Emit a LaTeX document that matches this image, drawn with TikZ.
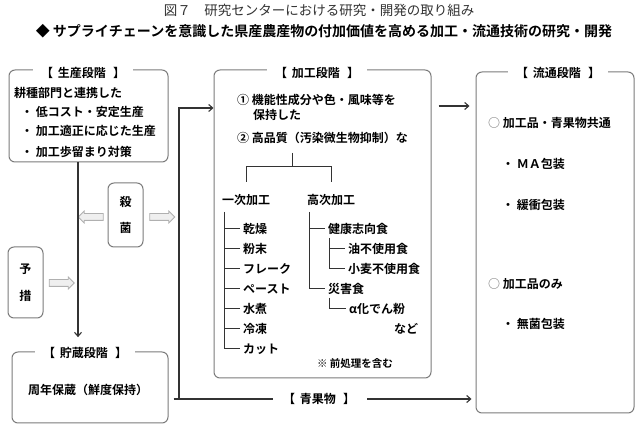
\documentclass[tikz,border=0pt]{standalone}
\usepackage{fontspec}
\setmainfont{Noto Sans CJK JP}[BoldFont={Noto Sans CJK JP Bold}]
\usetikzlibrary{arrows.meta,positioning,shapes.arrows}
\definecolor{Ink}{HTML}{333333}
\definecolor{Frame}{HTML}{7C7C7C}
\definecolor{Soft}{HTML}{B0B0B0}
\definecolor{Mist}{HTML}{EFEFEF}
\newcommand{\brk}[1]{【\hspace{5pt}#1\hspace{7pt}】}
\tikzset{
  >={Straight Barb[length=4pt,width=7pt]},
  stage/.style={draw=Frame,line width=1pt,rounded corners=6pt},
  stagelab/.style={fill=white,inner xsep=8pt,inner ysep=1pt,font=\bfseries\fontsize{12}{14}\selectfont},
  txt/.style={anchor=west,inner sep=0pt,font=\bfseries\fontsize{12}{14}\selectfont},
  item/.style={txt,inner xsep=3pt},
  vbox/.style={stage,minimum width=35pt,align=center,font=\bfseries\fontsize{12}{26}\selectfont},
  conn/.style={draw=Ink,line width=1.1pt},
  flow/.style={conn,->},
  tree/.style={draw=Ink,line width=1pt},
  hollow/.style={single arrow,draw=Soft,fill=Mist,line width=.8pt,minimum height=25pt,inner sep=3pt,single arrow head extend=2.5pt}
}
\begin{document}
\begin{tikzpicture}[x=1pt,y=-1pt]
  \useasboundingbox[fill=white] (0,0) rectangle (640,435);
  % titles
  \node[font=\fontsize{13.5}{15}\selectfont,text=Ink] (fig) at (319,10) {図７　研究センターにおける研究・開発の取り組み};
  \node[font=\bfseries\fontsize{14}{16}\selectfont] (theme) at (324,31) {◆ サプライチェーンを意識した県産農産物の付加価値を高める加工・流通技術の研究・開発};
  % stage boxes
  \node[stage,minimum width=159,minimum height=92] (seisan) at (88.5,116) {};
  \node[stage,minimum width=156,minimum height=71] (chozo) at (90,387.5) {};
  \node[stage,minimum width=217,minimum height=308] (kako) at (322.5,224) {};
  \node[stage,minimum width=158,minimum height=341] (ryutsu) at (555,242.5) {};
  \node[vbox,minimum height=64] (sakkin) at (125.5,215) {殺\\菌};
  \node[vbox,minimum height=71,font=\bfseries\fontsize{12}{27}\selectfont] (yoso) at (25.5,282.5) {予\\措};
  \node[stagelab] (seisanlab) at (83,73) {\brk{生産段階}};
  \node[stagelab] (chozolab) at (85,353) {\brk{貯蔵段階}};
  \node[stagelab] (kakolab) at (317,73) {\brk{加工段階}};
  \node[stagelab] (ryutsulab) at (558,73) {\brk{流通段階}};
  % production
  \node[txt] (s1) at (14,93) {耕種部門と連携した};
  \node[txt] (s2) at (21,112) {・ 低コスト・安定生産};
  \node[txt] (s3) at (21,131) {・ 加工適正に応じた生産};
  \node[txt] (s4) at (21,152) {・ 加工歩留まり対策};
  \node[txt,anchor=center] (s5) at (88,390) {周年保蔵（鮮度保持）};
  \node[hollow,shape border rotate=180] (killL) at (92.5,217) {};
  \node[hollow] (killR) at (160.5,217) {};
  \node[hollow] (prepR) at (60,283) {};
  % connectors
  \coordinate (down) at (78,0);
  \draw[flow,shorten >=9pt] (seisan.south -| down) -- (chozolab.north -| down);
  \node[stagelab,inner xsep=0pt] (seikalab) at (319,399) {\brk{青果物}};
  \coordinate (split) at (179,399); \coordinate (feed) at (179,108);
  \draw[conn] (chozo.east |- seikalab) ++(5,0) -- ([xshift=-10pt]seikalab.west);
  \draw[flow] (split) -- (feed) -- (kako.west |- feed);
  \draw[flow,shorten <=12pt,shorten >=4pt] (seikalab.east) -- (ryutsu.west |- seikalab);
  \coordinate (out) at (440,106);
  \draw[flow,shorten <=7pt,shorten >=6pt] (kako.east |- out) -- (ryutsu.west |- out);
  % processing
  \node[txt] (k1) at (237,100) {① 機能性成分や色・風味等を};
  \node[txt] (k2) at (253,115) {保持した};
  \node[txt] (k3) at (237,138) {② 高品質（汚染微生物抑制）な};
  \coordinate (fork) at (292,153); \coordinate (bar) at (292,167);
  \node[txt,anchor=center] (ichiji) at (246,200) {一次加工};
  \node[txt,anchor=center] (koji) at (331,200) {高次加工};
  \draw[tree] (fork) -- (bar) -| ([yshift=12pt]ichiji.north);
  \draw[tree] (bar) -| ([yshift=12pt]koji.north);
  \foreach \lab [count=\i] in {乾燥,粉末,フレーク,ペースト,水煮,冷凍,カット}
    \node[item] (p\i) at (240,209+20*\i) {\lab};
  \coordinate (ptop) at (224,212);
  \draw[tree] (ptop) |- (p7.west);
  \foreach \i in {1,...,6} \draw[tree] (ptop |- p\i.west) -- (p\i.west);
  \node[item] (h1) at (325,229) {健康志向食};
  \node[item] (h11) at (345,249) {油不使用食};
  \node[item] (h12) at (345,269) {小麦不使用食};
  \node[item] (h2) at (325,289) {災害食};
  \node[item] (h21) at (346,309) {α化でん粉};
  \coordinate (htop) at (309,212);
  \draw[tree] (htop) |- (h2.west); \draw[tree] (htop |- h1.west) -- (h1.west);
  \coordinate (hsub) at (329,238);
  \draw[tree] (hsub) |- (h12.west); \draw[tree] (hsub |- h11.west) -- (h11.west);
  \coordinate (dsub) at (329,298);
  \draw[tree] (dsub) |- (h21.west);
  \node[txt,anchor=center] (nado) at (406,329) {など};
  \node[txt,anchor=center,font=\bfseries\fontsize{10.5}{12}\selectfont] (note) at (355,364) {※ 前処理を含む};
  % distribution
  \node[txt] (r1) at (488,123) {{\color{Frame}○} 加工品・青果物共通};
  \node[txt] (r2) at (502,164) {・ ＭＡ包装};
  \node[txt] (r3) at (502,205) {・ 緩衝包装};
  \node[txt] (r4) at (488,284) {{\color{Frame}○} 加工品のみ};
  \node[txt] (r5) at (502,324) {・ 無菌包装};
\end{tikzpicture}
\end{document}
